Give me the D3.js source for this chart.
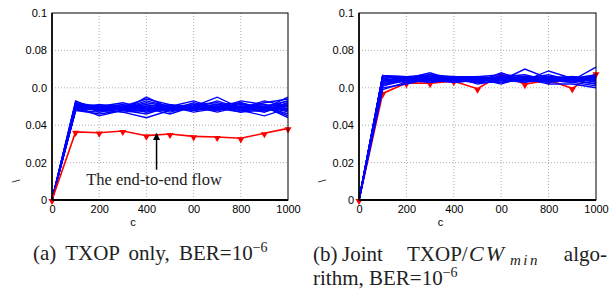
<!DOCTYPE html>
<html>
<head>
<meta charset="utf-8">
<script src="https://cdn.jsdelivr.net/npm/d3@7"></script>
<style>
  body { margin: 0; background: #fff; }
  svg { display: block; }
  .tick text { font-family: "Liberation Sans", Arial, sans-serif; font-size: 11px; fill: #000; }
  .cap { font-family: "Liberation Serif", "Times New Roman", serif; font-size: 21px; fill: #222; }
</style>
</head>
<body>
<svg id="chart" width="611" height="291"></svg>
<script>
// x positions of the samples
const xVals = [0, 100, 200, 300, 400, 500, 600, 700, 800, 900, 1000];
const xTicks = [0, 200, 400, 600, 800, 1000];
const xTickLabels = ['0', '200', '400', '00', '800', '1000'];
const yTicks = [0, 0.02, 0.04, 0.06, 0.08, 0.1];
const yTickLabels = ['0', '0.02', '0.04', '0.0', '0.08', '0.1'];

// (a) TXOP only - blue flows
const blueA = [
  [0, .052, .049, .050, .048, .049, .050, .051, .049, .050, .053],
  [0, .053, .048, .049, .047, .050, .049, .050, .048, .049, .055],
  [0, .050, .045, .048, .055, .049, .048, .049, .050, .047, .051],
  [0, .049, .050, .052, .049, .050, .053, .049, .051, .050, .048],
  [0, .048, .051, .049, .050, .047, .050, .055, .049, .053, .050],
  [0, .051, .049, .047, .044, .048, .049, .050, .047, .050, .044],
  [0, .050, .048, .050, .054, .051, .049, .048, .052, .049, .050],
  [0, .049, .050, .048, .046, .050, .047, .049, .050, .048, .052],
  [0, .048, .047, .049, .051, .049, .050, .051, .048, .045, .049],
  [0, .052, .050, .051, .049, .048, .052, .049, .053, .051, .047],
  [0, .050, .049, .050, .050, .051, .049, .053, .049, .050, .046],
  [0, .049, .048, .047, .048, .049, .050, .048, .050, .049, .051],
  [0, .051, .050, .049, .052, .050, .048, .050, .049, .052, .054],
  [0, .048, .046, .048, .050, .048, .051, .049, .047, .048, .049],
  [0, .050, .051, .050, .047, .049, .049, .050, .051, .050, .045],
  [0, .049, .049, .051, .049, .046, .050, .048, .050, .051, .050],
  [0, .051, .048, .049, .053, .050, .051, .052, .049, .047, .052],
  [0, .050, .050, .048, .048, .051, .048, .050, .048, .050, .048],
  [0, .048, .049, .050, .051, .049, .050, .047, .050, .049, .053],
  [0, .052, .047, .049, .049, .048, .049, .051, .052, .048, .050]
];
// (a) end-to-end flow
const redA = [0, .0364, .036, .0369, .0344, .0353, .034, .0337, .033, .0357, .0383];

// (b) joint TXOP/CWmin - blue flows
const blueB = [
  [0, .0665, .065, .066, .065, .064, .066, .065, .066, .065, .066],
  [0, .0665, .064, .065, .066, .065, .065, .066, .065, .064, .071],
  [0, .066, .065, .068, .064, .066, .064, .070, .065, .066, .065],
  [0, .065, .066, .064, .065, .063, .068, .064, .069, .065, .064],
  [0, .064, .063, .065, .066, .065, .063, .065, .064, .063, .061],
  [0, .063, .066, .066, .064, .066, .065, .064, .066, .065, .066],
  [0, .062, .064, .067, .065, .064, .066, .063, .065, .066, .063],
  [0, .061, .065, .063, .066, .065, .062, .066, .063, .064, .065],
  [0, .060, .062, .065, .064, .063, .065, .065, .062, .062, .060],
  [0, .059, .063, .064, .063, .064, .066, .067, .064, .063, .066],
  [0, .0665, .066, .065, .066, .062, .064, .065, .066, .064, .062],
  [0, .0665, .064, .066, .065, .065, .065, .064, .065, .066, .064],
  [0, .066, .065, .064, .066, .066, .067, .066, .064, .065, .067],
  [0, .065, .063, .065, .063, .064, .064, .063, .066, .063, .065],
  [0, .064, .066, .066, .065, .065, .066, .065, .067, .064, .062],
  [0, .063, .064, .065, .064, .063, .063, .064, .063, .065, .066],
  [0, .062, .065, .064, .065, .066, .065, .066, .065, .066, .064],
  [0, .0665, .066, .067, .066, .064, .064, .065, .064, .064, .065],
  [0, .061, .064, .063, .064, .065, .066, .064, .066, .065, .063],
  [0, .064, .065, .066, .065, .066, .065, .066, .065, .065, .066]
];
const redB = [0, .057, .0625, .0625, .0635, .0595, .067, .062, .064, .0597, .0677];

const svg = d3.select('#chart');
const plotTop = 13, plotBottom = 200;

svg.append('defs').append('marker')
  .attr('id', 'arrow')
  .attr('viewBox', '0 0 10 10')
  .attr('refX', 9).attr('refY', 5)
  .attr('markerWidth', 7).attr('markerHeight', 10)
  .attr('markerUnits', 'userSpaceOnUse')
  .attr('orient', 'auto')
  .append('path').attr('d', 'M0,0L10,5L0,10z').attr('fill', '#000');

function drawPanel(left, right, blue, red, redFirst, ylabX) {
  const x = d3.scaleLinear().domain([0, 1000]).range([left, right]);
  const y = d3.scaleLinear().domain([0, 0.1]).range([plotBottom, plotTop]);
  const g = svg.append('g');

  // dotted grid
  g.selectAll('.gx').data(xTicks.slice(1, -1)).enter().append('line')
    .attr('x1', d => x(d)).attr('x2', d => x(d)).attr('y1', plotTop).attr('y2', plotBottom)
    .attr('stroke', '#b0b0b0').attr('stroke-dasharray', '1,2');
  g.selectAll('.gy').data(yTicks.slice(1, -1)).enter().append('line')
    .attr('x1', left).attr('x2', right).attr('y1', d => y(d)).attr('y2', d => y(d))
    .attr('stroke', '#b0b0b0').attr('stroke-dasharray', '1,2');

  const line = d3.line().x((d, i) => x(xVals[i])).y(d => y(d));

  function drawRed() {
    g.append('path').datum(red).attr('d', line)
      .attr('fill', 'none').attr('stroke', '#ff0000').attr('stroke-width', 1.6);
    g.selectAll('.mk').data(red).enter().append('path')
      .attr('d', d3.symbol(d3.symbolTriangle, 22))
      .attr('transform', (d, i) => `translate(${x(xVals[i])},${y(d) + 1}) rotate(180)`)
      .attr('fill', '#ff0000');
  }
  function drawBlue() {
    g.selectAll('.bl').data(blue).enter().append('path')
      .attr('d', line).attr('fill', 'none')
      .attr('stroke', '#0000ff').attr('stroke-width', 1.4);
  }
  if (redFirst) { drawRed(); drawBlue(); } else { drawBlue(); drawRed(); }

  // frame
  g.append('rect').attr('x', left).attr('y', plotTop)
    .attr('width', right - left).attr('height', plotBottom - plotTop)
    .attr('fill', 'none').attr('stroke', '#000').attr('stroke-width', 1);
  g.append('line').attr('x1', left).attr('x2', right).attr('y1', plotBottom).attr('y2', plotBottom)
    .attr('stroke', '#000').attr('stroke-width', 2);
  g.append('line').attr('x1', left).attr('x2', left).attr('y1', plotTop).attr('y2', plotBottom)
    .attr('stroke', '#000').attr('stroke-width', 1.6);

  const ax = g.append('g').attr('transform', `translate(0,${plotBottom})`)
    .call(d3.axisBottom(x).tickValues(xTicks)
      .tickFormat((d, i) => xTickLabels[i]).tickSize(0).tickPadding(5));
  ax.select('.domain').remove();
  const ay = g.append('g').attr('transform', `translate(${left},0)`)
    .call(d3.axisLeft(y).tickValues(yTicks)
      .tickFormat((d, i) => yTickLabels[i]).tickSize(0).tickPadding(5));
  ay.select('.domain').remove();

  g.append('text').attr('x', (left + right) / 2 - 37).attr('y', 226)
    .attr('text-anchor', 'middle')
    .style('font-family', '"Liberation Sans", Arial, sans-serif').style('font-size', '11px')
    .text('c');
  g.append('text').attr('transform', `translate(${ylabX},181) rotate(-90)`)
    .attr('text-anchor', 'middle').attr('dy', '0.35em')
    .style('font-family', '"Liberation Sans", Arial, sans-serif').style('font-size', '11px')
    .text('\\');
  return { x, y, g };
}

const pa = drawPanel(52, 288, blueA, redA, false, 16);
drawPanel(359, 596, blueB, redB, true, 322);

// annotation in panel (a)
pa.g.append('line')
  .attr('x1', pa.x(443)).attr('x2', pa.x(443))
  .attr('y1', pa.y(0.0162)).attr('y2', pa.y(0.0355))
  .attr('stroke', '#000').attr('stroke-width', 1.5)
  .attr('marker-end', 'url(#arrow)');
pa.g.append('text').attr('x', pa.x(145)).attr('y', 185)
  .style('font-family', '"Liberation Serif", "Times New Roman", serif')
  .style('font-size', '16.5px').attr('fill', '#222')
  .text('The end-to-end flow');

// captions
const capA = svg.append('text').attr('class', 'cap').attr('x', 33).attr('y', 260)
  .style('word-spacing', '4px');
capA.append('tspan').text('(a) TXOP only, BER=10');
capA.append('tspan').attr('dy', -8).style('font-size', '14px').text('\u22126');

svg.append('text').attr('class', 'cap').attr('x', 313).attr('y', 261).text('(b)');
svg.append('text').attr('class', 'cap').attr('x', 342).attr('y', 261).text('Joint');
svg.append('text').attr('class', 'cap').attr('x', 407).attr('y', 261).text('TXOP/');
svg.append('text').attr('class', 'cap').attr('x', 469).attr('y', 261)
  .style('font-style', 'italic').style('font-size', '22px').style('letter-spacing', '2px')
  .text('CW');
svg.append('text').attr('class', 'cap').attr('x', 510).attr('y', 265)
  .style('font-style', 'italic').style('font-size', '15px').style('letter-spacing', '2.5px')
  .text('min');
svg.append('text').attr('class', 'cap').attr('x', 607).attr('y', 261)
  .attr('text-anchor', 'end').text('algo-');
const capB2 = svg.append('text').attr('class', 'cap').attr('x', 313).attr('y', 285);
capB2.append('tspan').text('rithm, BER=10');
capB2.append('tspan').attr('dy', -8).style('font-size', '14px').text('\u22126');
</script>
</body>
</html>
